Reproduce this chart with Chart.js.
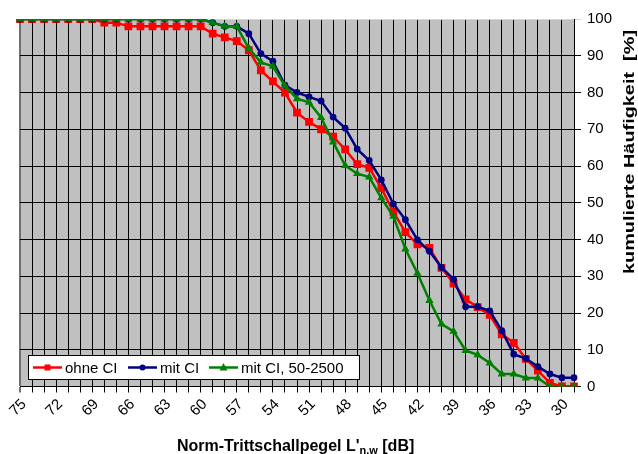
<!DOCTYPE html>
<html>
<head>
<meta charset="utf-8">
<script src="https://cdn.jsdelivr.net/npm/chart.js@4.4.1/dist/chart.umd.min.js"></script>
<style>
  html, body { margin: 0; padding: 0; background: #fff; }
  #wrap { width: 638px; height: 454px; }
</style>
</head>
<body>
<div id="wrap"><canvas id="kurve" width="638" height="454"></canvas></div>
<script>
const pegel = ['75', '74', '73', '72', '71', '70', '69', '68', '67', '66', '65', '64', '63', '62', '61', '60',
               '59', '58', '57', '56', '55', '54', '53', '52', '51', '50', '49', '48', '47', '46', '45', '44',
               '43', '42', '41', '40', '39', '38', '37', '36', '35', '34', '33', '32', '31', '30', '29'];
const beschriftet = ['75', '72', '69', '66', '63', '60', '57', '54', '51', '48', '45', '42', '39', '36', '33', '30'];

const ohneCI = [100, 100, 100, 100, 100, 100, 100, 99, 99, 98, 98, 98, 98, 98, 98, 98,
                96, 95, 94, 91.5, 86, 83, 80, 74.5, 72, 70, 68, 64.5, 60.5, 59.5,
                54, 47.5, 42, 38.7, 37.7, 32.3, 28, 23.7, 21.6, 19.5,
                14.2, 11.9, 7.5, 4.3, 1, 0, 0];
const mitCI = [100, 100, 100, 100, 100, 100, 100, 100, 100, 100, 100, 100, 100, 100, 100, 100,
               99, 98, 98, 96, 90.6, 88.5, 82, 80, 78.8, 77.7, 73.3, 70.3, 64.6, 61.5,
               56.2, 49.7, 45.4, 39.9, 36.8, 32.4, 29.2, 21.7, 21.7, 20.6,
               15.2, 8.8, 7.6, 5.4, 3.4, 2.4, 2.4];
const mitCI2500 = [100, 100, 100, 100, 100, 100, 100, 100, 100, 100, 100, 100, 100, 100, 100, 100,
                   99, 98, 98, 92, 88.2, 87.1, 81.8, 78.3, 77.3, 73.2, 66.5, 60.1, 57.9, 57,
                   51.3, 46.3, 37.4, 30.8, 23.4, 17, 15, 9.8, 8.6, 6.4,
                   3.4, 3.4, 2.3, 2.3, 0, 0, 0];

const schrift = '"Liberation Sans", Arial, sans-serif';

// grauer Hintergrund der Zeichenflaeche
const flaeche = {
    id: 'flaeche',
    beforeDraw(chart) {
        const { ctx, chartArea: a } = chart;
        ctx.save();
        ctx.fillStyle = '#c0c0c0';
        ctx.fillRect(a.left, a.top, a.right - a.left, a.bottom - a.top);
        ctx.restore();
    }
};

function marker(ctx, art, x, y, r) {
    ctx.beginPath();
    if (art === 'rect') {
        ctx.rect(x - r, y - r, 2 * r, 2 * r);
    } else if (art === 'triangle') {
        ctx.moveTo(x, y - r * 1.1);
        ctx.lineTo(x + r, y + r * 0.75);
        ctx.lineTo(x - r, y + r * 0.75);
        ctx.closePath();
    } else {
        ctx.arc(x, y, r, 0, Math.PI * 2);
    }
    ctx.fill();
}

// Legende innerhalb der Zeichenflaeche, unten links
const legende = {
    id: 'legende',
    afterDraw(chart) {
        const ctx = chart.ctx;
        const x0 = 28, y0 = 355, w = 331, h = 24;
        const starts = [33, 128, 209];
        const groesse = [3, 3, 4];
        ctx.save();
        ctx.fillStyle = '#fff';
        ctx.fillRect(x0, y0, w, h);
        ctx.strokeStyle = '#000';
        ctx.lineWidth = 1;
        ctx.strokeRect(x0 + 0.5, y0 + 0.5, w, h);
        const ym = y0 + h / 2 + 0.5;
        ctx.font = '15px ' + schrift;
        ctx.textBaseline = 'middle';
        chart.data.datasets.forEach((ds, i) => {
            const sx = starts[i];
            ctx.strokeStyle = ds.borderColor;
            ctx.lineWidth = 2.5;
            ctx.beginPath();
            ctx.moveTo(sx, ym);
            ctx.lineTo(sx + 29, ym);
            ctx.stroke();
            ctx.fillStyle = ds.backgroundColor;
            marker(ctx, ds.pointStyle, sx + 14.5, ym, groesse[i]);
            ctx.fillStyle = '#000';
            ctx.fillText(ds.label, sx + 32, ym + 1);
        });
        ctx.restore();
    }
};

// Achsentitel
const titel = {
    id: 'titel',
    afterDraw(chart) {
        const ctx = chart.ctx;
        ctx.save();
        ctx.fillStyle = '#000';
        ctx.textBaseline = 'alphabetic';

        // x-Achse mit tiefgestelltem n,w
        let x = 177;
        const yb = 451;
        ctx.font = 'bold 16px ' + schrift;
        ctx.textAlign = 'left';
        let t = "Norm-Trittschallpegel L'";
        ctx.fillText(t, x, yb);
        x += ctx.measureText(t).width;
        ctx.font = 'bold 11px ' + schrift;
        ctx.fillText('n,w', x, yb + 3);
        x += ctx.measureText('n,w').width;
        ctx.font = 'bold 16px ' + schrift;
        ctx.fillText(' [dB]', x, yb);

        // y-Achse rechts, von unten nach oben
        const yt = 'kumulierte Häufigkeit  [%]';
        ctx.font = 'bold 15px ' + schrift;
        const w = ctx.measureText(yt).width;
        ctx.translate(634, 152);
        ctx.rotate(-Math.PI / 2);
        ctx.scale(244 / w, 1);
        ctx.textAlign = 'center';
        ctx.fillText(yt, 0, 0);
        ctx.restore();
    }
};

new Chart(document.getElementById('kurve').getContext('2d'), {
    type: 'line',
    data: {
        labels: pegel,
        datasets: [
            {
                label: 'ohne CI',
                data: ohneCI,
                borderColor: '#ff0000',
                backgroundColor: '#ff0000',
                borderWidth: 2.5,
                pointStyle: 'rect',
                pointRadius: 5.5,
                pointBorderWidth: 0,
                order: 3
            },
            {
                label: 'mit CI',
                data: mitCI,
                borderColor: '#000080',
                backgroundColor: '#000080',
                borderWidth: 2.5,
                pointStyle: 'circle',
                pointRadius: 3.4,
                pointBorderWidth: 0,
                order: 2
            },
            {
                label: 'mit CI, 50-2500',
                data: mitCI2500,
                borderColor: '#008000',
                backgroundColor: '#008000',
                borderWidth: 2.5,
                pointStyle: 'triangle',
                pointRadius: 4.8,
                pointBorderWidth: 0,
                order: 1
            }
        ]
    },
    options: {
        responsive: false,
        animation: false,
        devicePixelRatio: 1,
        layout: { padding: { left: 20, top: 19, right: 0, bottom: 0 } },
        plugins: {
            legend: { display: false },
            tooltip: { enabled: false }
        },
        elements: { line: { tension: 0 } },
        scales: {
            x: {
                offset: false,
                grid: {
                    color: (c) => c.index === 0 ? '#707070' : '#000',
                    lineWidth: (c) => c.index === 0 ? 2 : 1,
                    tickLength: 6
                },
                border: { color: '#000', width: 1 },
                ticks: {
                    autoSkip: false,
                    minRotation: 45,
                    maxRotation: 45,
                    color: '#000',
                    padding: 3,
                    labelOffset: 4,
                    font: { family: schrift, size: 15 },
                    callback: function (val, i) {
                        const l = pegel[i];
                        return beschriftet.includes(l) ? l : '';
                    }
                },
                afterFit: (s) => { s.height = 67.5; }
            },
            y: {
                position: 'right',
                min: 0,
                max: 100,
                grid: {
                    color: (c) => c.tick && c.tick.value === 100 ? '#d4d4d4' : '#000',
                    tickLength: 7
                },
                border: { color: '#000', width: 1 },
                ticks: {
                    stepSize: 10,
                    color: '#000',
                    padding: 6,
                    font: { family: schrift, size: 15 }
                },
                afterFit: (s) => { s.width = 64; }
            }
        }
    },
    plugins: [flaeche, legende, titel]
});
</script>
</body>
</html>
